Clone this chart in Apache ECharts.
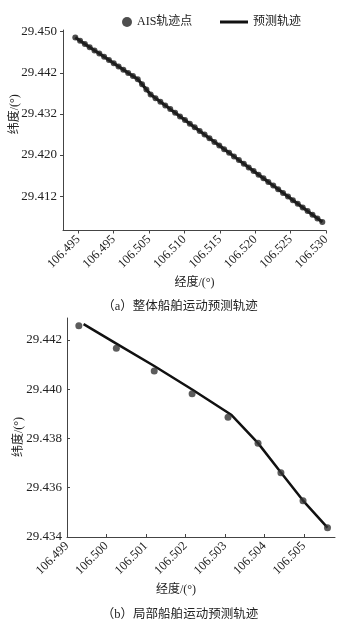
<!DOCTYPE html>
<html>
<head>
<meta charset="utf-8">
<script src="https://cdn.jsdelivr.net/npm/echarts@6/dist/echarts.min.js"></script>
<style>
html,body{margin:0;padding:0;background:#fff;}
#c{width:351px;height:620px;}
</style>
</head>
<body>
<div id="c"></div>
<script>
// ---- (a) whole trajectory ----
const topAisLon = [106.49458,106.49525,106.49593,106.49661,106.49729,106.49797,106.49865,106.49933,106.50001,106.50069,
  106.50137,106.50205,106.50272,106.50340,106.50401,106.50462,106.50522,106.50591,106.50660,106.50729,
  106.50799,106.50868,106.50937,106.51007,106.51076,106.51145,106.51215,106.51284,106.51353,106.51423,
  106.51492,106.51561,106.51631,106.51700,106.51769,106.51839,106.51908,106.51977,106.52047,106.52116,
  106.52185,106.52255,106.52324,106.52393,106.52463,106.52532,106.52601,106.52671,106.52740,106.52809,
  106.52879,106.52948];
const topAisLat = [29.44866,29.44792,29.44718,29.44644,29.44568,29.44494,29.44420,29.44346,29.44272,29.44198,
  29.44122,29.44048,29.43974,29.43900,29.43787,29.43666,29.43548,29.43465,29.43380,29.43297,
  29.43211,29.43128,29.43042,29.42959,29.42874,29.42790,29.42707,29.42622,29.42538,29.42453,
  29.42370,29.42284,29.42201,29.42118,29.42032,29.41949,29.41863,29.41780,29.41695,29.41612,
  29.41526,29.41443,29.41360,29.41274,29.41191,29.41105,29.41022,29.40937,29.40853,29.40770,
  29.40685,29.40602];
// predicted track coincides with the AIS points in the overview
const topPredLon = topAisLon.slice();
const topPredLat = topAisLat.slice();

const topXTickValues = [106.495,106.500,106.505,106.510,106.515,106.520,106.525,106.530];
const topXTickLabels = ['106.495','106.495','106.505','106.510','106.515','106.520','106.525','106.530'];
const topYTickValues = [29.450,29.4405,29.431,29.4215,29.412];
const topYTickLabels = ['29.450','29.442','29.432','29.420','29.412'];

// ---- (b) local trajectory ----
const botAisLon = [106.49930,106.50025,106.50121,106.50217,106.50308,106.50384,106.50442,106.50498,106.50560];
const botAisLat = [29.44258,29.44166,29.44074,29.43982,29.43886,29.43781,29.43661,29.43547,29.43438];
const botPredLon = [106.49942,106.50025,106.50121,106.50217,106.50317,106.50384,106.50442,106.50498,106.50560];
const botPredLat = [29.44264,29.44185,29.44094,29.43999,29.43895,29.43781,29.43662,29.43548,29.43438];

const botXTickValues = [106.499,106.500,106.501,106.502,106.503,106.504,106.505];
const botXTickLabels = ['106.499','106.500','106.501','106.502','106.503','106.504','106.505'];
const botYTickValues = [29.434,29.436,29.438,29.440,29.442];
const botYTickLabels = ['29.434','29.436','29.438','29.440','29.442'];

const legendNames = ['AIS轨迹点','预测轨迹'];
const captions = ['（a）整体船舶运动预测轨迹','（b）局部船舶运动预测轨迹'];
const xName = '经度/(°)';
const yName = '纬度/(°)';

const FONT = '"Liberation Serif","Noto Sans CJK SC",serif';
const TXT = '#222';
const AX = '#444';

function zip(a,b){return a.map((v,i)=>[v,b[i]]);}
function fmt(vals,labels){
  return function(v){
    let best=0,bd=Infinity;
    vals.forEach((t,i)=>{const d=Math.abs(t-v);if(d<bd){bd=d;best=i;}});
    return labels[best];
  };
}

const chart = echarts.init(document.getElementById('c'), null, {renderer:'canvas'});
const baseX = (idx, vals, labels, min, max, gap, pad, inside) => ({
  type:'value', gridIndex:idx, min:min, max:max, scale:true,
  name:xName, nameLocation:'middle', nameGap:gap, nameMoveOverlap:false,
  nameTextStyle:{color:TXT,fontSize:12,fontFamily:FONT,padding:pad},
  axisLine:{show:true,onZero:false,lineStyle:{color:AX,width:1}},
  axisTick:{show:true,inside:inside,length:3,customValues:vals,lineStyle:{color:AX}},
  axisLabel:{rotate:45,margin:7,color:TXT,fontSize:12.5,fontFamily:FONT,customValues:vals,formatter:fmt(vals,labels)},
  splitLine:{show:false}
});
const baseY = (idx, vals, labels, min, max, gap, pad, inside, margin) => ({
  type:'value', gridIndex:idx, min:min, max:max, scale:true,
  name:yName, nameLocation:'middle', nameGap:gap, nameMoveOverlap:false,
  nameTextStyle:{color:TXT,fontSize:12,fontFamily:FONT,padding:pad},
  axisLine:{show:true,onZero:false,lineStyle:{color:AX,width:1}},
  axisTick:{show:true,inside:inside,length:3,customValues:vals,lineStyle:{color:AX}},
  axisLabel:{margin:margin,color:TXT,fontSize:13,fontFamily:FONT,customValues:vals,formatter:fmt(vals,labels)},
  splitLine:{show:false}
});

chart.setOption({
  backgroundColor:'#fff',
  animation:false,
  title:[
    {text:captions[0],left:175,top:295,textAlign:'center',textStyle:{color:TXT,fontSize:12.5,fontWeight:'normal',fontFamily:FONT}},
    {text:captions[1],left:175,top:603,textAlign:'center',textStyle:{color:TXT,fontSize:12.5,fontWeight:'normal',fontFamily:FONT}}
  ],
  legend:[
    {data:[{name:legendNames[0],icon:'circle'}],left:117,top:11,itemWidth:10,itemHeight:10,
     textStyle:{color:TXT,fontSize:12,fontFamily:FONT},selectedMode:false},
    {data:[{name:legendNames[1],icon:'rect'}],left:215,top:11,itemWidth:28,itemHeight:3,
     textStyle:{color:TXT,fontSize:12,fontFamily:FONT},selectedMode:false}
  ],
  grid:[
    {left:63,top:30,width:263,height:200.5,containLabel:false,outerBoundsMode:'none'},
    {left:67,top:318,width:268,height:219,containLabel:false,outerBoundsMode:'none'}
  ],
  xAxis:[
    baseX(0, topXTickValues, topXTickLabels, 106.49284, 106.53000, 46, [0,0,0,0], false),
    baseX(1, botXTickValues, botXTickLabels, 106.499, 106.50579, 47, [0,50,0,0], true)
  ],
  yAxis:[
    baseY(0, topYTickValues, topYTickLabels, 29.40405, 29.4504, 42, [0,0,0,32], false, 6),
    baseY(1, botYTickValues, botYTickLabels, 29.434, 29.44289, 42, [0,19,0,0], true, 5)
  ],
  series:[
    {name:legendNames[1],type:'line',xAxisIndex:0,yAxisIndex:0,data:zip(topPredLon,topPredLat),
     showSymbol:false,symbol:'none',lineStyle:{color:'#111',width:3},itemStyle:{color:'#111'},z:2},
    {name:legendNames[0],type:'scatter',xAxisIndex:0,yAxisIndex:0,data:zip(topAisLon,topAisLat),
     symbolSize:6,itemStyle:{color:'#222'},z:3},
    {name:legendNames[1],type:'line',xAxisIndex:1,yAxisIndex:1,data:zip(botPredLon,botPredLat),
     showSymbol:false,symbol:'none',lineStyle:{color:'#111',width:2.5},itemStyle:{color:'#111'},z:2},
    {name:legendNames[0],type:'scatter',xAxisIndex:1,yAxisIndex:1,data:zip(botAisLon,botAisLat),
     symbolSize:7,itemStyle:{color:'#333'},z:3}
  ]
});
</script>
</body>
</html>
